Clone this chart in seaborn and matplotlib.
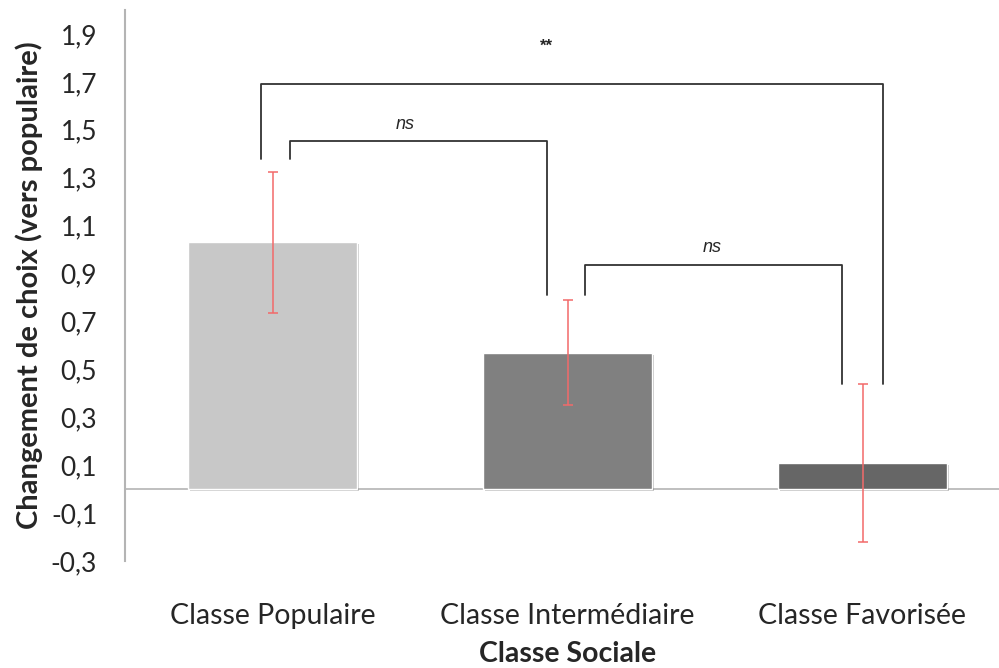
import numpy as np
import pandas as pd
import matplotlib
matplotlib.use('Agg')
import matplotlib.pyplot as plt
from matplotlib.ticker import FuncFormatter
import matplotlib.patheffects as pe
import seaborn as sns

# données
classes = ['Classe Populaire', 'Classe Intermédiaire', 'Classe Favorisée']
moyennes = [1.03, 0.57, 0.11]
erreurs = [0.295, 0.22, 0.33]
couleurs = ['#c8c8c8', '#808080', '#666666']
y_ticks = [-0.3, -0.1, 0.1, 0.3, 0.5, 0.7, 0.9, 1.1, 1.3, 1.5, 1.7, 1.9]

# crochets de significativité : (gauche, droite, haut, pied gauche, pied droit, texte, x texte, y texte)
crochets = [
    (-0.04, 2.07, 1.69, 1.38, 0.44, '**', 0.93, 1.85),
    (0.06, 0.93, 1.455, 1.38, 0.81, 'ns', 0.45, 1.52),
    (1.06, 1.93, 0.935, 0.81, 0.44, 'ns', 1.49, 1.01),
]

sns.set_style('white')
plt.rcParams['font.family'] = ['Lato', 'DejaVu Sans']

df = pd.DataFrame({'classe': classes, 'valeur': moyennes})

fig = plt.figure(figsize=(9.99, 6.68), dpi=100)
ax = fig.add_axes([125/999, 107/668, 885/999, 551/668])

sns.barplot(data=df, x='classe', y='valeur', hue='classe', palette=couleurs,
            width=0.573, errorbar=None, legend=False, ax=ax, saturation=1)
for p in ax.patches:
    p.set_path_effects([pe.SimplePatchShadow(offset=(1.5, -1.5), alpha=0.25), pe.Normal()])

ax.errorbar(x=np.arange(len(classes)), y=moyennes, yerr=erreurs, fmt='none',
            ecolor='#f26a6a', elinewidth=1.1, capsize=3.5, capthick=1.1)

ax.axhline(0, color='#b4b4b4', lw=1.2, zorder=0)

for g, d, h, pg, pd_, txt, xt, yt in crochets:
    ax.plot([g, g, d, d], [pg, h, h, pd_], color='#333333', lw=1.3, clip_on=False)
    if txt == 'ns':
        ax.text(xt, yt, txt, ha='center', va='center', fontsize=13, style='italic',
                family=['Liberation Sans', 'DejaVu Sans'])
    else:
        ax.text(xt, yt, txt, ha='center', va='center', fontsize=12, fontweight='bold',
                family=['Liberation Sans', 'DejaVu Sans'])

ax.set_xlim(-0.5, 2.5)
ax.set_ylim(-0.3, 2.0)
ax.set_yticks(y_ticks)
ax.yaxis.set_major_formatter(FuncFormatter(lambda v, pos: f'{v:.1f}'.replace('.', ',')))
ax.tick_params(axis='y', length=0, pad=20, labelsize=19)
ax.tick_params(axis='x', length=0, pad=30, labelsize=20.5)

for s in ['top', 'right', 'bottom']:
    ax.spines[s].set_visible(False)
ax.spines['left'].set_color('#b4b4b4')
ax.spines['left'].set_linewidth(1.5)

ax.set_xlabel('Classe Sociale', fontsize=20.5, fontweight='bold', labelpad=9)
ax.set_ylabel('Changement de choix (vers populaire)', fontsize=21, fontweight='bold')
ax.yaxis.set_label_coords(-82/885, 0.5)

plt.savefig('out.png', dpi=100)
